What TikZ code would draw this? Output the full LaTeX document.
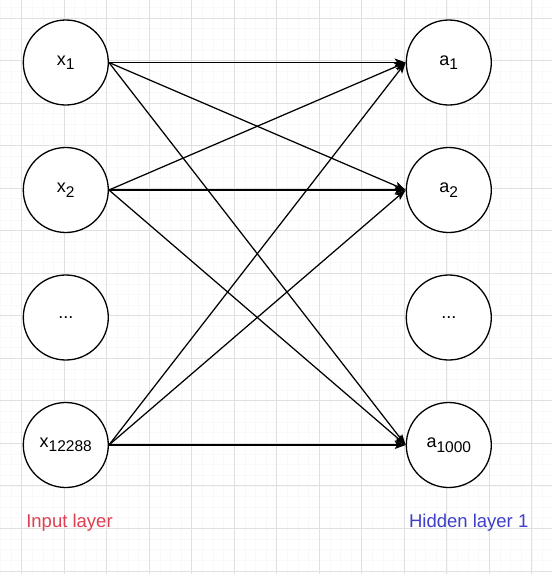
\documentclass[tikz,border=0pt]{standalone}
\usepackage{fontspec}
\setmainfont{Liberation Sans}
\usetikzlibrary{arrows.meta}
\definecolor{inred}{RGB}{222,62,80}
\definecolor{hidblue}{RGB}{62,62,200}
\definecolor{gridmaj}{RGB}{224,224,224}
\definecolor{gridmin}{RGB}{249,249,249}
\newcommand{\sub}[1]{\raisebox{-4.5pt}{\fontsize{15.5}{16}\selectfont #1}}

\begin{document}
\begin{tikzpicture}[x=1pt,y=-1pt]
\tikzstyle{unit}=[circle,draw,line width=1.3pt,minimum size=85pt,inner sep=0pt,fill=white,font=\fontsize{18}{19}\selectfont];
\tikzstyle{conn}=[-{Stealth[length=11pt,width=8pt,inset=2.5pt]},line width=1.25pt];
\tikzstyle{layer}=[font=\fontsize{18.5}{21}\selectfont];
\useasboundingbox (0,0) rectangle (552,574);
% grid
\foreach \i in {0,...,55} \draw [gridmin,line width=0.5pt] (0.3+10.63*\i,0) -- (0.3+10.63*\i,574);
\foreach \i in {0,...,55} \draw [gridmin,line width=0.5pt] (0,7.4+10.63*\i) -- (552,7.4+10.63*\i);
\foreach \i in {0,...,12} \draw [gridmaj,line width=0.9pt] (21.7+42.52*\i,0) -- (21.7+42.52*\i,574);
\foreach \i in {0,...,13} \draw [gridmaj,line width=0.9pt] (0,18.2+42.52*\i) -- (552,18.2+42.52*\i);

\node [unit] (x1) at (65.8,62.5) {x\sub{1}};
\node [unit] (x2) at (65.8,190) {x\sub{2}};
\node [unit,text depth=-3pt] (xd) at (65.8,317.5) {...};
\node [unit] (xn) at (65.8,445) {x\sub{12288}};

\node [unit] (a1) at (448.8,62.5) {a\sub{1}};
\node [unit] (a2) at (448.8,190) {a\sub{2}};
\node [unit,text depth=-3pt] (ad) at (448.8,317.5) {...};
\node [unit] (an) at (448.8,445) {a\sub{1000}};

\foreach \s in {x1,x2,xn}
  \foreach \t in {a1,a2,an}
    \draw [conn] (\s.east) -- (\t.west);

\node [layer,text=inred] (inl) at (69.5,523) {Input layer};
\node [layer,text=hidblue] (hidl) at (468.7,523) {Hidden layer 1};
\end{tikzpicture}
\end{document}
